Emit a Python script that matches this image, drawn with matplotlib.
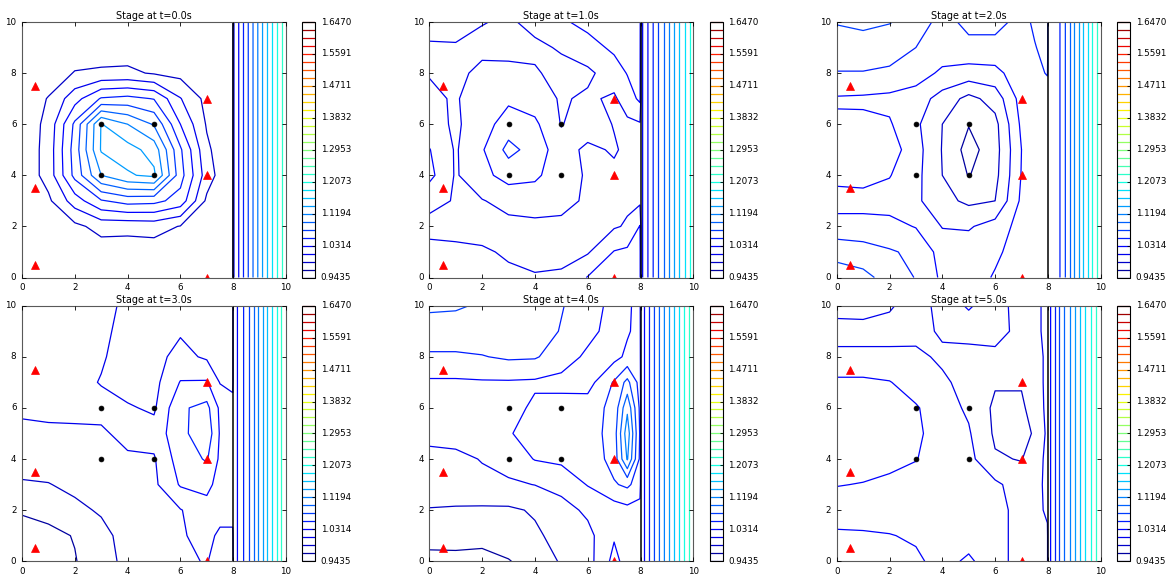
import numpy as np
import matplotlib.pyplot as plt

plt.style.use('classic')

# contour levels of the stage colour scale
lo, hi = 0.9435, 1.6470
levels = np.linspace(lo, hi, 33)
step = levels[1] - levels[0]
cbar_ticks = levels[::4]

times = [0.0, 1.0, 2.0, 3.0, 4.0, 5.0]
wall_x = 8.0

# grid nodes (left: water basin, right: beach behind the wall)
x_left = [0, 1, 2, 3, 4, 5, 6, 7, 7.5, 7.98]
x_right = [8.02, 8.5, 9.0, 10.0]
y_rows = [10, 9, 8, 7, 6, 5, 4, 3, 2, 1, 0]

# gauges
tri_x = [0.5, 0.5, 0.5, 7, 7, 7]
tri_y = [7.5, 3.5, 0.5, 7, 4, 0]
dot_x = [3, 5, 3, 5]
dot_y = [6, 6, 4, 4]

# stage, in contour steps above the lowest level
# rows go from y=10 (top) to y=0 (bottom)
left_t0 = [
    [1.5, 1.5, 1.5, 1.5, 1.5, 1.5, 1.5, 1.5, 1.5, 1.5],
    [1.5, 1.5, 1.5, 1.5, 1.5, 1.5, 1.5, 1.5, 1.5, 1.5],
    [1.4, 1.5, 2.05, 2.15, 2.2, 1.9, 1.7, 1.5, 1.5, 1.5],
    [1.4, 2.05, 3.6, 5.1, 5.3, 4.95, 3.05, 1.7, 1.5, 1.5],
    [1.3, 2.3, 5.2, 9.05, 8.0, 6.9, 4.0, 1.9, 1.5, 1.5],
    [1.25, 2.4, 5.45, 9.1, 9.4, 8.6, 5.15, 2.2, 1.6, 1.5],
    [1.25, 2.4, 5.3, 8.0, 8.9, 9.2, 5.4, 2.5, 1.7, 1.5],
    [1.4, 1.8, 3.5, 4.9, 5.4, 5.3, 4.6, 1.8, 1.5, 1.5],
    [1.4, 1.5, 1.75, 2.35, 2.3, 2.4, 1.95, 1.5, 1.5, 1.5],
    [1.5, 1.5, 1.5, 1.5, 1.5, 1.5, 1.5, 1.5, 1.5, 1.5],
    [1.5, 1.5, 1.5, 1.5, 1.5, 1.5, 1.5, 1.5, 1.5, 1.5],
]
left_t1 = [
    [3.3, 3.2, 3.05, 2.85, 3.3, 3.85, 4.3, 4.4, 4.4, 4.4],
    [2.9, 2.95, 2.7, 2.6, 2.8, 3.1, 3.6, 4.2, 4.3, 4.3],
    [2.95, 2.7, 3.3, 3.35, 3.1, 2.7, 2.8, 3.5, 4.05, 4.2],
    [3.2, 2.9, 3.6, 3.8, 3.5, 2.9, 3.15, 2.85, 3.5, 4.2],
    [3.4, 2.85, 3.55, 4.5, 4.2, 2.95, 3.5, 2.95, 2.8, 2.9],
    [4.05, 2.9, 3.9, 5.3, 4.6, 3.4, 2.8, 3.1, 2.8, 2.8],
    [4.3, 2.9, 3.7, 4.4, 4.2, 3.4, 2.9, 2.8, 2.8, 2.8],
    [3.2, 2.95, 2.95, 3.3, 3.4, 3.2, 2.9, 2.8, 2.85, 2.8],
    [2.8, 2.7, 2.7, 2.75, 2.8, 2.85, 2.9, 2.9, 3.1, 4.05],
    [3.2, 3.2, 3.1, 2.9, 2.8, 2.8, 2.9, 4.05, 4.2, 4.3],
    [3.3, 3.3, 3.3, 3.15, 3.05, 3.1, 4.05, 4.3, 4.3, 4.3],
]
left_t2 = [
    [6.05, 6.2, 6.05, 5.6, 4.6, 5.3, 5.3, 4.7, 5.15, 5.3],
    [5.6, 5.6, 5.4, 5.0, 4.6, 4.7, 4.7, 4.8, 4.95, 5.3],
    [4.95, 4.95, 4.85, 4.5, 3.8, 3.6, 3.7, 4.6, 4.8, 5.05],
    [3.9, 3.85, 3.75, 3.5, 2.6, 1.7, 2.4, 4.4, 4.5, 4.6],
    [4.15, 4.2, 4.1, 3.2, 2.0, 1.05, 1.7, 4.2, 4.5, 4.5],
    [4.4, 4.5, 4.5, 3.4, 1.95, 0.6, 1.6, 4.0, 4.5, 4.5],
    [4.3, 4.4, 4.05, 3.3, 2.0, 0.95, 1.7, 4.05, 4.5, 4.5],
    [3.6, 3.6, 3.6, 3.2, 2.3, 1.8, 2.0, 4.2, 4.5, 4.5],
    [4.4, 4.4, 4.3, 3.95, 2.95, 2.9, 3.4, 4.4, 4.5, 4.5],
    [5.6, 5.4, 5.1, 4.8, 3.6, 3.5, 3.8, 4.5, 4.5, 4.5],
    [6.6, 6.3, 5.6, 4.95, 3.8, 3.5, 4.1, 4.5, 4.5, 4.5],
]
left_t3 = [
    [3.4, 3.4, 3.4, 3.3, 2.8, 2.6, 2.7, 2.7, 2.75, 2.8],
    [3.4, 3.4, 3.4, 3.2, 2.7, 2.75, 2.9, 2.8, 2.8, 2.8],
    [3.4, 3.4, 3.35, 3.1, 2.6, 2.7, 3.3, 2.85, 2.85, 2.8],
    [3.4, 3.4, 3.3, 2.95, 2.6, 2.7, 4.05, 4.1, 2.95, 2.8],
    [3.3, 3.4, 3.4, 3.3, 3.1, 2.85, 4.85, 5.3, 3.8, 3.3],
    [2.6, 2.7, 2.75, 2.85, 3.3, 3.4, 4.7, 5.7, 3.9, 3.4],
    [2.6, 2.6, 2.6, 2.7, 2.85, 2.9, 4.5, 5.1, 3.8, 3.4],
    [1.85, 1.95, 2.3, 2.6, 2.65, 2.8, 4.1, 4.3, 3.6, 3.4],
    [1.1, 1.3, 1.7, 2.15, 2.6, 2.75, 2.95, 3.6, 3.4, 3.4],
    [0.6, 0.75, 1.05, 1.6, 2.5, 2.7, 2.9, 3.3, 2.8, 2.8],
    [0.5, 0.65, 0.95, 1.55, 2.3, 2.6, 2.85, 3.05, 2.6, 2.6],
]
left_t4 = [
    [6.15, 6.1, 5.9, 5.6, 5.4, 5.05, 4.6, 3.6, 3.9, 4.2],
    [5.6, 5.6, 5.6, 5.55, 5.4, 4.95, 4.3, 3.6, 3.9, 4.3],
    [4.85, 4.85, 4.95, 5.15, 5.1, 4.5, 3.8, 3.7, 4.2, 4.4],
    [3.85, 3.85, 3.9, 3.9, 3.85, 3.7, 3.6, 5.1, 6.3, 4.6],
    [3.5, 3.5, 3.5, 3.6, 4.2, 4.4, 4.5, 5.3, 7.8, 4.8],
    [3.3, 3.4, 3.5, 3.9, 4.5, 4.5, 4.4, 5.5, 8.6, 4.9],
    [2.7, 2.75, 3.05, 3.4, 4.05, 4.2, 4.3, 5.4, 8.1, 4.8],
    [2.5, 2.55, 2.75, 2.85, 3.02, 3.35, 4.05, 4.9, 5.2, 4.5],
    [1.95, 1.9, 1.85, 1.85, 2.1, 2.6, 3.2, 3.5, 3.7, 3.6],
    [1.5, 1.55, 1.2, 1.5, 1.85, 2.3, 2.7, 3.9, 3.5, 3.5],
    [0.6, 0.6, 0.8, 0.95, 1.4, 2.1, 2.6, 4.3, 3.6, 3.5],
]
left_t5 = [
    [3.3, 3.35, 3.1, 2.6, 3.3, 4.15, 3.3, 2.7, 2.8, 3.2],
    [2.7, 2.7, 2.7, 2.65, 3.15, 3.3, 3.3, 2.75, 2.8, 3.2],
    [3.2, 3.2, 3.2, 3.25, 2.8, 2.7, 2.8, 2.7, 2.8, 3.1],
    [4.2, 4.2, 4.05, 3.5, 3.2, 2.6, 2.1, 2.1, 2.6, 3.2],
    [4.5, 4.5, 4.4, 4.1, 3.4, 2.85, 1.8, 1.8, 2.5, 3.2],
    [4.5, 4.6, 4.5, 4.2, 3.5, 3.1, 1.85, 1.7, 2.1, 3.2],
    [4.5, 4.5, 4.4, 4.05, 3.4, 3.3, 2.1, 1.95, 2.6, 3.2],
    [4.05, 3.95, 3.7, 3.5, 3.4, 3.4, 3.2, 2.5, 2.7, 3.2],
    [3.4, 3.4, 3.4, 3.4, 3.4, 3.4, 3.3, 2.7, 2.8, 3.1],
    [4.2, 4.15, 4.05, 3.85, 3.4, 3.5, 3.3, 2.7, 2.8, 2.9],
    [4.5, 4.5, 4.4, 4.2, 3.6, 4.2, 3.3, 2.7, 2.8, 2.9],
]

# beach behind the wall, contour steps at x = 8.02, 8.5, 9, 10
beach_t0 = [2.95, 5.61, 8.38, 13.93]
beach_t1 = [2.69, 5.1, 7.61, 12.64]
beach_t2 = [4.5, 5.05, 8.0, 13.9]
beach_t3 = [3.4, 5.45, 8.3, 14.0]
beach_t4 = [3.3, 5.85, 8.5, 13.8]
beach_t5 = [3.5, 6.4, 8.9, 13.9]

lefts = [left_t0, left_t1, left_t2, left_t3, left_t4, left_t5]
beaches = [beach_t0, beach_t1, beach_t2, beach_t3, beach_t4, beach_t5]

fig = plt.figure(figsize=(11.71, 5.74), dpi=100)
W, H = 1171.0, 574.0
col_left = [22, 429.3, 836.7]
cbar_left = [302.3, 709.5, 1117.0]
row_top = [22, 305.7]
ax_w, ax_h, cb_w = 264.0, 255.5, 13.0

for i, t in enumerate(times):
    r, c = divmod(i, 3)
    ax = fig.add_axes([col_left[c] / W, 1 - (row_top[r] + ax_h) / H,
                       ax_w / W, ax_h / H])
    cax = fig.add_axes([cbar_left[c] / W, 1 - (row_top[r] + ax_h) / H,
                        cb_w / W, ax_h / H])

    left = np.array(lefts[i], dtype=float)
    right = np.tile(beaches[i], (len(y_rows), 1))
    z = np.hstack([left, right])[::-1]
    xs = np.array(x_left + x_right)
    ys = np.array(y_rows[::-1])
    cs = ax.contour(xs, ys, lo + step * z, levels=levels, cmap='jet',
                    linewidths=0.9)
    ax.axvline(wall_x, color='k', lw=1.1)
    ax.plot(tri_x, tri_y, '^', color='r', mec='r', ms=5.5)
    ax.plot(dot_x, dot_y, 'o', color='k', mec='k', ms=3.5)
    ax.set_xlim(0, 10)
    ax.set_ylim(0, 10)
    ax.set_xticks(range(0, 11, 2))
    ax.set_yticks(range(0, 11, 2))
    ax.tick_params(labelsize=6.3, length=3, width=0.6)
    for s in ax.spines.values():
        s.set_linewidth(0.8)
        s.set_edgecolor('0.35')
    ax.set_title('Stage at t=%.1fs' % t, fontsize=6.9, pad=2)

    cb = fig.colorbar(cs, cax=cax, ticks=cbar_ticks, format='%.4f')
    cb.ax.tick_params(labelsize=6.3, length=2.5, width=0.6)
    cb.outline.set_linewidth(0.8)

fig.savefig('out.png', dpi=100)
